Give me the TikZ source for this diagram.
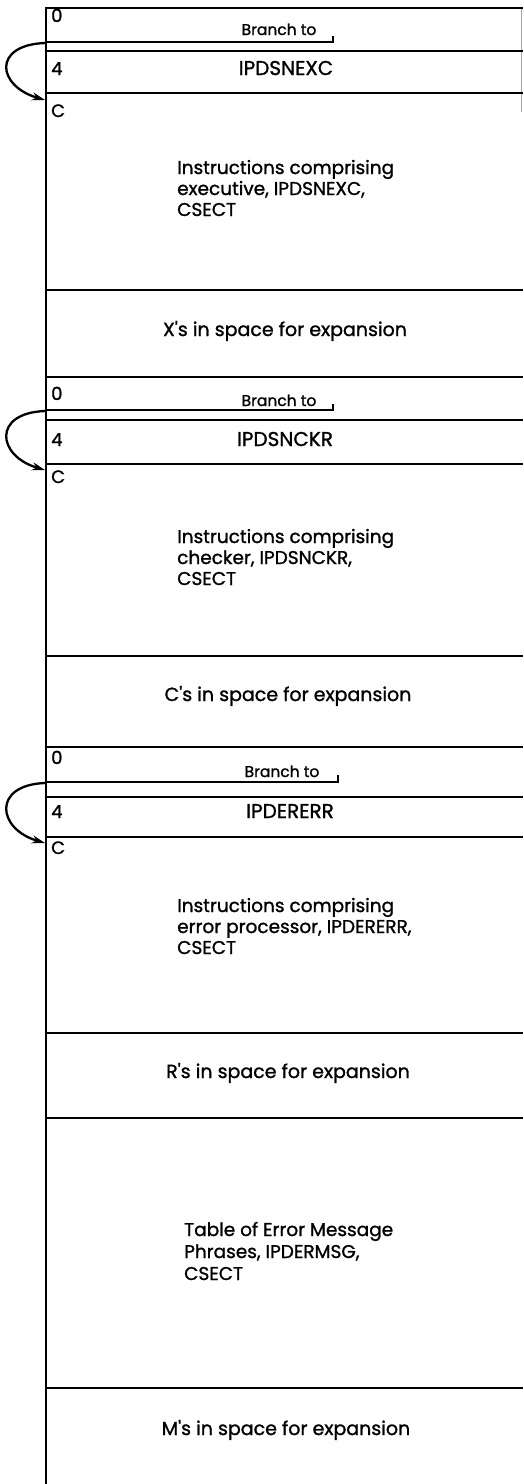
\documentclass[tikz,border=0pt]{standalone}
\usepackage{fontspec}
\setmainfont{Poppins}
\newfontfamily\popb{Poppins}[FakeBold=1.2]
\usetikzlibrary{arrows.meta}
\begin{document}
\begin{tikzpicture}[x=1pt,y=-1pt,
  rule/.style={line width=2.3pt},
  partrule/.style={line width=1.7pt},
  lbl/.style={inner sep=0pt, anchor=base west, font=\popb\fontsize{18}{20}\selectfont},
  brl/.style={inner sep=0pt, anchor=base, font=\popb\fontsize{15.5}{19}\selectfont},
  ctr/.style={inner sep=0pt, anchor=base, font=\popb\fontsize{20}{22}\selectfont},
  body/.style={inner sep=0pt, anchor=base west, font=\popb\fontsize{18.5}{21}\selectfont},
  xpan/.style={inner sep=0pt, anchor=base, font=\popb\fontsize{19}{21}\selectfont},
  loop/.style={line width=2.3pt, -{Stealth[length=13pt,width=8pt]}}
]
\useasboundingbox (0,0) rectangle (523,1484);
\fill[white] (0,0) rectangle (523,1484);
% left spine
\draw[line width=2.8pt] (46,7) -- (46,1484);
% faint right edge at top
\draw[gray!70, line width=0.8pt] (521.5,8) -- (521.5,112);
% full-width rules
\foreach \y in {8,51,93,290,377,420,464,656,747,797,837,1033,1118,1388}
  \draw[rule] (45,\y) -- (523,\y);
% partial rules with tick (Branch to address field)
\draw[partrule] (45,42) -- (333,42) -- (333,36);
\draw[partrule] (45,410) -- (333,410) -- (333,404);
\draw[partrule] (45,782) -- (338,782) -- (338,775);

% ---------- block 1 ----------
\node[lbl] (z1) at (51,22) {0};
\node[brl] (br1) at (279,35) {Branch to};
\node[lbl] (f1) at (51,75) {4};
\node[ctr] (n1) at (286,75) {IPDSNEXC};
\node[lbl] (c1) at (51,117) {C};
\node[body] (t1a) at (177,174) {Instructions comprising};
\node[body] (t1b) at (177,195) {executive, IPDSNEXC,};
\node[body] (t1c) at (177,216) {CSECT};
\node[xpan] (x1) at (285,336) {X\textquotesingle s in space for expansion};
\coordinate (a1s) at (45,43);
\coordinate (a1e) at (45,100);
\draw[loop] (a1s) .. controls (-8,45) and (-3,86) .. (a1e);

% ---------- block 2 ----------
\node[lbl] (z2) at (51,400) {0};
\node[brl] (br2) at (279,406) {Branch to};
\node[lbl] (f2) at (51,446) {4};
\node[ctr] (n2) at (285,446) {IPDSNCKR};
\node[lbl] (c2) at (51,483) {C};
\node[body] (t2a) at (177,543) {Instructions comprising};
\node[body] (t2b) at (177,564) {checker, IPDSNCKR,};
\node[body] (t2c) at (177,585) {CSECT};
\node[xpan] (x2) at (288,701) {C\textquotesingle s in space for expansion};
\coordinate (a2s) at (45,411);
\coordinate (a2e) at (45,470);
\draw[loop] (a2s) .. controls (-8,413) and (-3,456) .. (a2e);

% ---------- block 3 ----------
\node[lbl] (z3) at (51,764) {0};
\node[brl] (br3) at (282,777) {Branch to};
\node[lbl] (f3) at (51,818) {4};
\node[ctr] (n3) at (290,818) {IPDERERR};
\node[lbl] (c3) at (51,854) {C};
\node[body] (t3a) at (177,912) {Instructions comprising};
\node[body] (t3b) at (177,933) {error processor, IPDERERR,};
\node[body] (t3c) at (177,954) {CSECT};
\node[xpan] (x3) at (288,1078) {R\textquotesingle s in space for expansion};
\coordinate (a3s) at (45,783);
\coordinate (a3e) at (45,843);
\draw[loop] (a3s) .. controls (-8,785) and (-3,829) .. (a3e);

% ---------- message table ----------
\node[body] (m1a) at (184,1236) {Table of Error Message};
\node[body] (m1b) at (184,1258) {Phrases, IPDERMSG,};
\node[body] (m1c) at (184,1280) {CSECT};
\node[xpan] (x4) at (286,1435) {M\textquotesingle s in space for expansion};
\end{tikzpicture}
\end{document}
